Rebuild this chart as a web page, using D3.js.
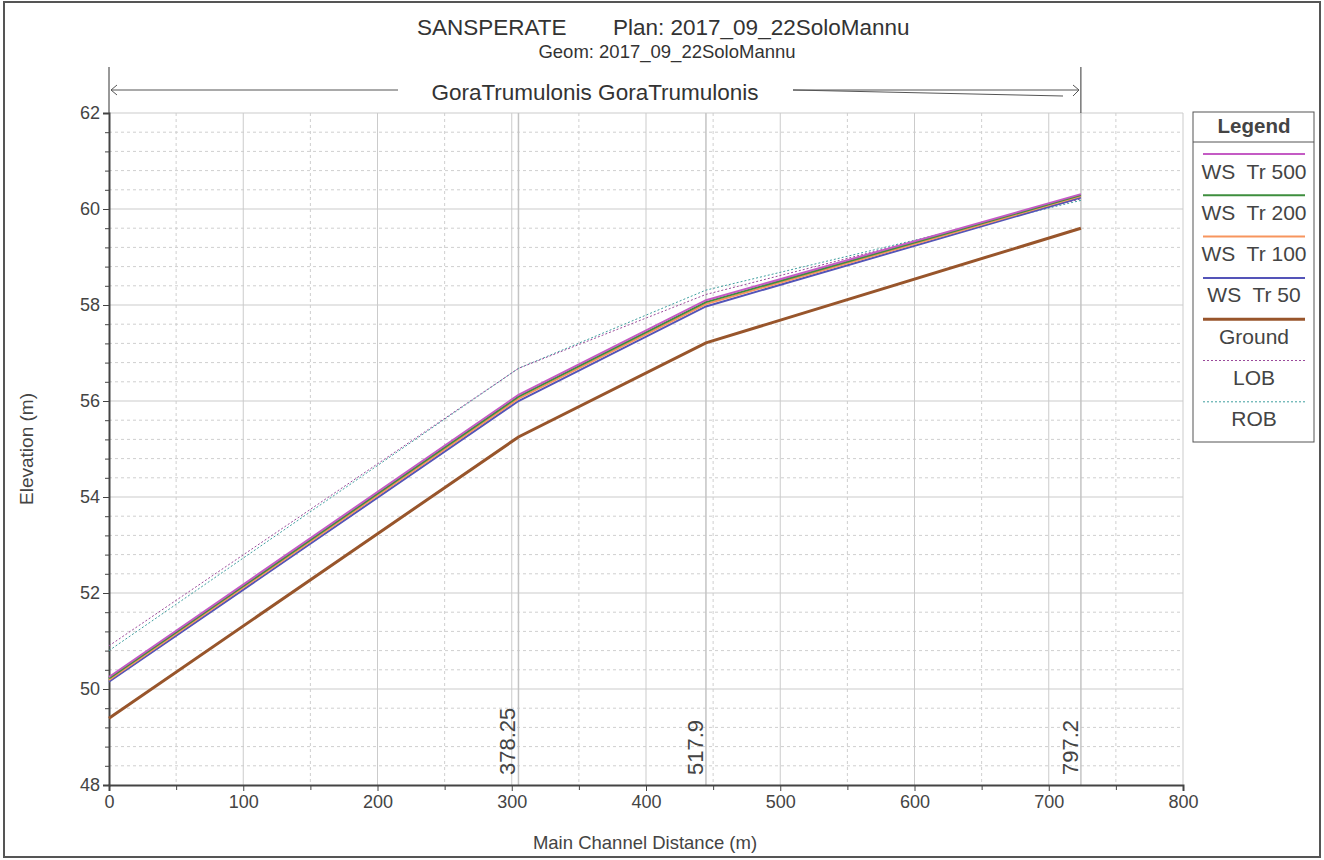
<!DOCTYPE html>
<html><head><meta charset="utf-8">
<script src="https://cdn.jsdelivr.net/npm/d3@7"></script>
<style>body{margin:0;background:#fff;} svg{display:block;font-family:"Liberation Sans",Arial,sans-serif;}</style>
</head><body>
<svg id="c" width="1324" height="860"></svg>
<script>
const dist = [0, 305, 444.65, 723.95];
const ws500 = [50.25, 56.13, 58.10, 60.31];
const ws200 = [50.22, 56.09, 58.06, 60.29];
const ws100 = [50.19, 56.05, 58.02, 60.27];
const ws50  = [50.15, 56.00, 57.97, 60.24];
const ground = [49.39, 55.25, 57.21, 59.60];
const lob = [50.90, 56.68, 58.22, 60.21];
const rob = [50.80, 56.68, 58.31, 60.18];
const stationDist = [305, 444.65, 723.95];
const stationLabels = ["378.25", "517.9", "797.2"];
const xTicks = [0,100,200,300,400,500,600,700,800];
const yTicks = [48,50,52,54,56,58,60,62];
const reachLabel = "GoraTrumulonis GoraTrumulonis";
const titleLeft = "SANSPERATE";
const titleRight = "Plan: 2017_09_22SoloMannu";
const subTitle = "Geom: 2017_09_22SoloMannu";

const series = [
  {name:"WS  Tr 500", vals:ws500, color:"#c45bc4", w:2, dash:null},
  {name:"WS  Tr 200", vals:ws200, color:"#3e8e3e", w:2, dash:null},
  {name:"WS  Tr 100", vals:ws100, color:"#f7955e", w:2, dash:null},
  {name:"WS  Tr 50", vals:ws50, color:"#5454b8", w:2, dash:null},
  {name:"Ground", vals:ground, color:"#98552b", w:3, dash:null},
  {name:"LOB", vals:lob, color:"#9b4a9b", w:1, dash:"2,2"},
  {name:"ROB", vals:rob, color:"#3f9f9f", w:1, dash:"2,2"}
];

const svg = d3.select("#c");
const L=109, R=1183, T=113, B=785;
const x = d3.scaleLinear().domain([0,800]).range([L,R]);
const y = d3.scaleLinear().domain([48,62]).range([B,T]);
const txt = "#444";

// outer frame
svg.append("rect").attr("x",4).attr("y",2).attr("width",1316).attr("height",855)
  .attr("fill","none").attr("stroke","#555").attr("stroke-width",2);

// grid minor
const gx = d3.range(50,800,100), gy = d3.range(48.4,62,0.4).filter(v=>Math.abs(v/2-Math.round(v/2))>0.01);
svg.append("g").selectAll("line").data(gx).join("line")
  .attr("x1",d=>x(d)).attr("x2",d=>x(d)).attr("y1",T).attr("y2",B)
  .attr("stroke","#cfcfcf").attr("stroke-dasharray","3,3");
svg.append("g").selectAll("line").data(gy).join("line")
  .attr("x1",L).attr("x2",R).attr("y1",d=>y(d)).attr("y2",d=>y(d))
  .attr("stroke","#cfcfcf").attr("stroke-dasharray","3,3");
// grid major
svg.append("g").selectAll("line").data(xTicks.slice(1)).join("line")
  .attr("x1",d=>x(d)).attr("x2",d=>x(d)).attr("y1",T).attr("y2",B)
  .attr("stroke","#cbcbcb").attr("stroke-width",1);
svg.append("g").selectAll("line").data(yTicks.slice(1)).join("line")
  .attr("x1",L).attr("x2",R).attr("y1",d=>y(d)).attr("y2",d=>y(d))
  .attr("stroke","#cbcbcb").attr("stroke-width",1);

// station lines
svg.append("g").selectAll("line").data(stationDist).join("line")
  .attr("x1",d=>x(d)).attr("x2",d=>x(d)).attr("y1",T).attr("y2",B)
  .attr("stroke","#c4c4c4").attr("stroke-width",1.5);
svg.append("line").attr("x1",x(stationDist[2])).attr("x2",x(stationDist[2])).attr("y1",67).attr("y2",T).attr("stroke","#333");
svg.append("line").attr("x1",L).attr("x2",L).attr("y1",67).attr("y2",T).attr("stroke","#333");
svg.append("g").selectAll("text").data(stationLabels).join("text")
  .attr("transform",(d,i)=>`translate(${x(stationDist[i])-3},${B-10}) rotate(-90)`)
  .attr("font-size",22).attr("fill",txt).text(d=>d);

// axes
svg.append("g").attr("transform",`translate(0,${B})`)
  .call(d3.axisBottom(x).tickValues(xTicks).tickSize(6).tickPadding(4).tickFormat(d3.format("d")));
svg.append("g").attr("transform",`translate(0,${B})`)
  .call(d3.axisBottom(x).tickValues(gx).tickSize(5).tickFormat("")).select(".domain").remove();
svg.append("g").attr("transform",`translate(${L},0)`)
  .call(d3.axisLeft(y).tickValues(yTicks).tickSize(6).tickPadding(3).tickFormat(d3.format("d")));
svg.append("g").attr("transform",`translate(${L},0)`)
  .call(d3.axisLeft(y).tickValues(gy).tickSize(4).tickFormat("")).select(".domain").remove();
svg.selectAll(".tick text").attr("font-size",18).attr("fill",txt).attr("font-family","Liberation Sans, Arial, sans-serif");
svg.selectAll(".tick line").attr("stroke","#444");
svg.selectAll(".domain").attr("stroke","#444").attr("stroke-width",2);

// series
const line = d3.line().x((d,i)=>x(dist[i])).y(d=>y(d));
series.slice().reverse().forEach(s=>{
  svg.append("path").datum(s.vals).attr("d",line).attr("fill","none")
    .attr("stroke",s.color).attr("stroke-width",s.w).attr("stroke-dasharray",s.dash);
});

// titles
svg.append("text").attr("x",417).attr("y",35).attr("font-size",22.5).attr("fill","#333").text(titleLeft);
svg.append("text").attr("x",613).attr("y",35).attr("font-size",22.5).attr("fill","#333").text(titleRight);
svg.append("text").attr("x",667).attr("y",58).attr("text-anchor","middle").attr("font-size",18.5)
  .attr("fill","#333").text(subTitle);
svg.append("text").attr("x",595).attr("y",100).attr("text-anchor","middle").attr("font-size",22.5)
  .attr("fill","#333").text(reachLabel);
// reach arrows
svg.append("line").attr("x1",111).attr("x2",398).attr("y1",90).attr("y2",90).attr("stroke","#555");
svg.append("path").attr("d","M117,85 L111,90 L117,95").attr("fill","none").attr("stroke","#555");
svg.append("line").attr("x1",793).attr("x2",1079).attr("y1",90).attr("y2",90).attr("stroke","#555");
svg.append("line").attr("x1",793).attr("x2",1063).attr("y1",90).attr("y2",96).attr("stroke","#555");
svg.append("path").attr("d","M1073,85 L1079,90 L1073,96").attr("fill","none").attr("stroke","#555");

svg.append("text").attr("x",645).attr("y",849).attr("text-anchor","middle").attr("font-size",18.5)
  .attr("fill",txt).text("Main Channel Distance (m)");
svg.append("text").attr("transform","translate(33,449) rotate(-90)").attr("text-anchor","middle")
  .attr("font-size",19).attr("fill",txt).text("Elevation (m)");

// legend
const lg = svg.append("g");
lg.append("rect").attr("x",1193).attr("y",112).attr("width",121).attr("height",330)
  .attr("fill","#fff").attr("stroke","#555");
lg.append("line").attr("x1",1193).attr("x2",1314).attr("y1",142).attr("y2",142).attr("stroke","#555");
lg.append("text").attr("x",1254).attr("y",133).attr("text-anchor","middle").attr("font-size",20.5)
  .attr("font-weight","bold").attr("fill",txt).text("Legend");
series.forEach((s,i)=>{
  const yy = 154 + i*41.3;
  lg.append("line").attr("x1",1203).attr("x2",1305).attr("y1",yy).attr("y2",yy)
    .attr("stroke",s.color).attr("stroke-width",s.w).attr("stroke-dasharray",s.dash);
  lg.append("text").attr("x",1254).attr("y",yy+24.5).attr("text-anchor","middle").attr("font-size",21)
    .attr("fill",txt).attr("xml:space","preserve").style("white-space","pre").text(s.name);
});
</script>
</body></html>
